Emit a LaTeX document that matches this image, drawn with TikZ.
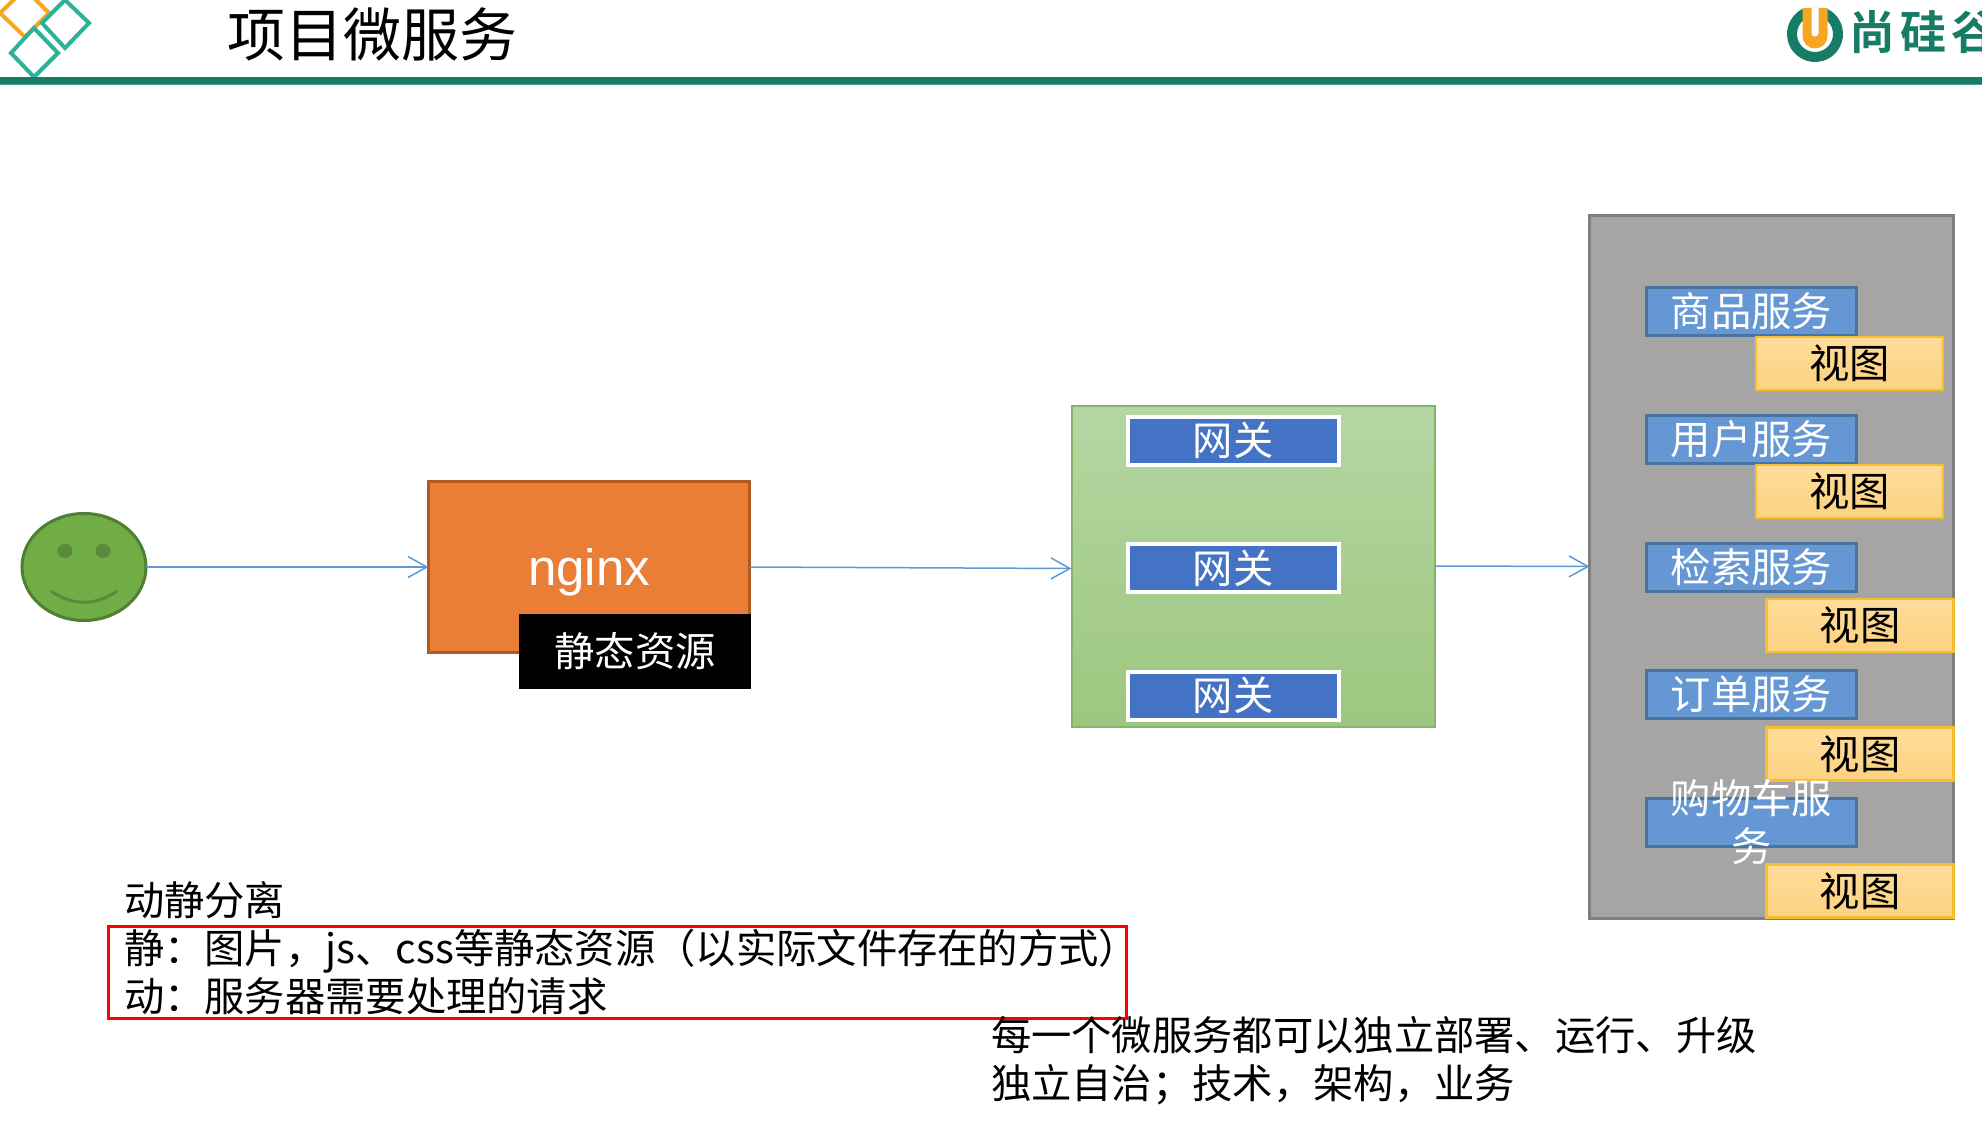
\documentclass[tikz,border=0pt]{standalone}
\usepackage{fontspec}
\setmainfont{Noto Sans CJK SC}
\newfontfamily\logofont{Noto Sans CJK SC}[BoldFont={* Bold},LetterSpace=11]
\newfontfamily\latinfont{Liberation Sans}
\usetikzlibrary{arrows.meta,shapes.geometric}
\definecolor{barG}{HTML}{167C66}
\definecolor{barL}{HTML}{4FA08E}
\definecolor{tealD}{HTML}{2BB39A}
\definecolor{orangeD}{HTML}{F5A623}
\definecolor{faceF}{HTML}{70AD47}
\definecolor{faceL}{HTML}{507E32}
\definecolor{faceE}{HTML}{5A8A39}
\definecolor{nginxF}{HTML}{EA7E36}
\definecolor{nginxL}{HTML}{AE5A21}
\definecolor{arrowC}{HTML}{5B9BD5}
\definecolor{gwF}{HTML}{4472C4}
\definecolor{svcF}{HTML}{6497D3}
\definecolor{svcL}{HTML}{4A74A0}
\definecolor{viewT}{HTML}{FEDC9A}
\definecolor{viewB}{HTML}{FCD27F}
\definecolor{viewL}{HTML}{F6BE2C}
\definecolor{panelF}{HTML}{A5A5A5}
\definecolor{panelL}{HTML}{7F7F7F}
\definecolor{greenT}{HTML}{B5D6A3}
\definecolor{greenB}{HTML}{9DC77F}
\definecolor{greenL}{HTML}{84B568}
\tikzset{
  x=1pt,y=-1pt,
  txt/.style={inner sep=0pt,outer sep=0pt,font=\fontsize{40.3}{48}\selectfont},
  box/.style={rectangle,inner sep=0pt,outer sep=0pt,align=center,font=\fontsize{40.3}{48}\selectfont},
  flow/.style={draw=arrowC,line width=1.5pt,-{Straight Barb[length=19pt,width=21pt,line width=1.5pt]}},
  gate/.style={box,draw=white,line width=4pt,fill=gwF,text=white,minimum width=211pt,minimum height=48pt},
  svc/.style={box,draw=svcL,line width=3pt,fill=svcF,text=white,minimum width=210pt,minimum height=48pt},
  viewbox/.style={box,draw=viewL,line width=2.5pt,top color=viewT,bottom color=viewB,text=black,minimum width=187pt,minimum height=53pt},
  diam/.style={line width=4pt,line join=miter},
}
\begin{document}
\begin{tikzpicture}
\useasboundingbox (0,0) rectangle (1982,1121);
% header
\draw[diam,orangeD] (0,13) -- (25,-11) -- (49,13) -- (25,37) -- cycle;
\draw[diam,tealD] (65,0) -- (89,23) -- (65,48) -- (42,23) -- cycle;
\draw[diam,tealD] (34,28) -- (58,53) -- (34,77) -- (11,53) -- cycle;
\fill[barG] (0,77) rectangle (1982,84);
\fill[barL] (0,84) rectangle (1982,85);
\node[txt,font=\fontsize{58}{60}\selectfont,anchor=center] (title) at (372,34) {项目微服务};
% logo
\begin{scope}[shift={(1815,34)},y=1pt]
\fill[barG] (116:28) arc (116:424:28) -- (64:18) arc (424:116:18) -- cycle;
\fill[orangeD] (-12.5,26) -- (12.5,26) -- (12.5,-2) arc (0:-180:12.5) -- cycle;
\fill[white] (-3.5,26) -- (3.5,26) -- (3.5,1) arc (0:-180:3.5) -- cycle;
\end{scope}
\node[txt,font=\logofont\bfseries\fontsize{46}{48}\selectfont,text=barG,anchor=west] (logotext) at (1849,32) {尚硅谷};
% person
\node[ellipse,draw=faceL,line width=3pt,fill=faceF,minimum width=124pt,minimum height=107pt,inner sep=0pt,outer sep=0pt] (face) at (84,567) {};
\fill[faceE] (65,551) ellipse [x radius=7.5pt,y radius=7pt];
\fill[faceE] (103,551) ellipse [x radius=7.5pt,y radius=7pt];
\draw[faceE,line width=3pt] (51,591) .. controls (72,606) and (96,606) .. (117,591);
% nginx
\node[box,draw=nginxL,line width=3pt,fill=nginxF,minimum width=321pt,minimum height=171pt] (nginx) at (589,567) {};
\node[txt,text=white,font=\latinfont\fontsize{51}{56}\selectfont,anchor=base] (nginxt) at (589,585) {nginx};
\node[box,fill=black,text=white,minimum width=232pt,minimum height=75pt] (static) at (635,651.5) {静态资源};
% gateway group
\node[box,draw=greenL,line width=2pt,top color=greenT,bottom color=greenB,minimum width=363pt,minimum height=321pt] (gwgroup) at (1253,566) {};
\node[gate] (g1) at (1233,440.5) {网关};
\node[gate] (g2) at (1233,568) {网关};
\node[gate] (g3) at (1233,695.5) {网关};
% services panel
\node[box,draw=panelL,line width=3pt,fill=panelF,minimum width=364pt,minimum height=703pt] (panel) at (1771.5,566.5) {};
\node[svc] (s1) at (1751.5,311.5) {商品服务};
\node[viewbox] (v1) at (1849.5,363.5) {视图};
\node[svc] (s2) at (1751.5,439) {用户服务};
\node[viewbox] (v2) at (1849.5,491.5) {视图};
\node[svc] (s3) at (1751.5,567.5) {检索服务};
\node[viewbox] (v3) at (1860,625.5) {视图};
\node[svc] (s4) at (1751.5,694.5) {订单服务};
\node[viewbox] (v4) at (1860,754) {视图};
\node[svc] (s5) at (1751.5,822.5) {};
\node[box,text=white] (s5t) at (s5.center) {购物车服\\务};
\node[viewbox] (v5) at (1860,891) {视图};
% connectors
\draw[flow] (face.east) -- (nginx.west);
\draw[flow] (nginx.east) -- ([yshift=-2.5pt]gwgroup.west);
\draw[flow] (gwgroup.east) -- (panel.west);
% notes
\node[box,draw=red,line width=3pt,minimum width=1018pt,minimum height=92pt] (redbox) at (617,972) {};
\node[txt,anchor=base west] (n1) at (124,915) {动静分离};
\node[txt,anchor=base west] (n2) at (124,963) {静：图片，js、css等静态资源（以实际文件存在的方式）};
\node[txt,anchor=base west] (n3) at (124,1011) {动：服务器需要处理的请求};
\node[txt,anchor=base west] (n4) at (991,1050) {每一个微服务都可以独立部署、运行、升级};
\node[txt,anchor=base west] (n5) at (991,1098) {独立自治；技术，架构，业务};
\end{tikzpicture}
\end{document}
